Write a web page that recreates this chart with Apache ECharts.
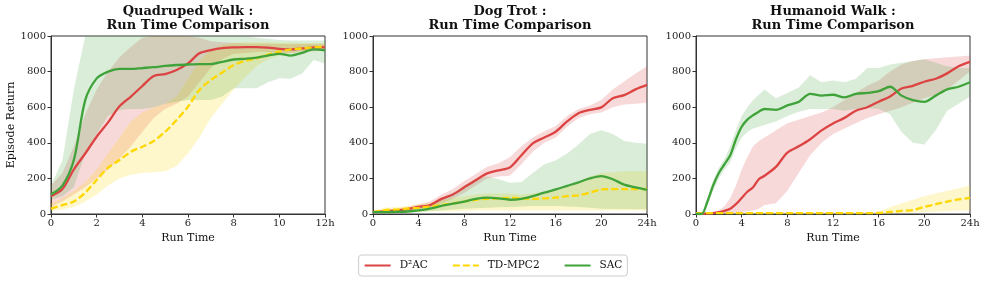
<!DOCTYPE html>
<html><head><meta charset="utf-8">
<script src="https://cdn.jsdelivr.net/npm/echarts@6/dist/echarts.min.js"></script>
<style>html,body{margin:0;padding:0;background:#fff}#c{width:986px;height:284px}</style>
</head><body><div id="c"></div>
<script>
// ---------- DATA ----------
const titles = ['Quadruped Walk :\nRun Time Comparison', 'Dog Trot :\nRun Time Comparison', 'Humanoid Walk :\nRun Time Comparison'];
const xMax = [12, 24, 24];
const xInterval = [2, 4, 4];
const yTicks = [0, 200, 400, 600, 800, 1000];
const seriesNames = ['D²AC', 'TD-MPC2', 'SAC'];

// Panel 1: Quadruped Walk
const t1 = [0,0.5,1,1.5,2,2.5,3,3.5,4,4.5,5,5.5,6,6.5,7,7.5,8,8.5,9,9.5,10,10.5,11,11.5,12];
const p1RedMean = [100,140,250,340,434,515,605,660,719,775,786,809,846,903,921,932,936,938,938,935,928,925,930,936,938];
const p1RedLo   = [40,70,110,150,200,250,310,380,460,540,590,620,660,740,820,870,900,905,910,910,905,905,910,915,920];
const p1RedHi   = [160,230,380,560,700,800,880,940,990,1000,1000,1000,1000,990,970,965,960,958,957,956,955,955,955,955,955];
const p1YelMean = [30,50,70,120,191,260,303,350,378,410,462,528,603,697,753,795,837,860,874,895,912,925,930,936,940];
const p1YelLo   = [15,25,40,70,110,160,200,220,230,235,240,270,340,430,540,620,700,770,830,870,890,905,915,920,925];
const p1YelHi   = [60,90,130,180,250,340,430,520,570,600,620,660,760,860,920,950,960,965,965,965,962,962,960,960,960];
const p1GrnMean = [110,160,303,640,762,800,815,815,820,825,832,837,840,842,842,855,868,872,878,890,900,890,905,925,920];
const p1GrnLo   = [80,100,150,340,450,550,584,590,590,600,620,631,640,640,640,660,706,706,706,740,762,760,790,865,846];
const p1GrnHi   = [160,300,700,1050,1050,1050,1050,1050,1050,1050,1050,1050,1050,1050,1050,1050,1050,1000,990,985,977,975,975,975,975];

// Panel 2: Dog Trot
const t2 = [0,1,2,3,4,5,6,7,8,9,10,11,12,13,14,15,16,17,18,19,20,21,22,23,24];
const p2RedMean = [10,15,20,28,40,50,85,110,150,190,228,245,262,330,397,430,462,520,566,585,599,650,668,700,725];
const p2RedLo   = [5,8,12,18,28,35,60,85,120,160,200,210,215,280,350,400,430,490,540,560,570,600,615,620,625];
const p2RedHi   = [15,22,30,40,55,70,110,140,185,225,265,285,320,380,430,465,495,550,590,610,640,700,745,790,830];
const p2YelMean = [10,22,25,30,35,42,50,60,70,80,85,88,90,88,85,88,92,100,105,120,138,140,140,140,140];
const p2YelLo   = [5,10,10,12,12,14,15,15,18,20,20,20,20,20,20,20,20,20,20,20,20,20,20,20,20];
const p2YelHi   = [20,35,40,45,55,65,75,90,100,110,115,115,115,110,115,125,140,160,180,210,230,235,240,240,240];
const p2GrnMean = [10,10,12,14,20,30,45,58,70,85,92,88,80,85,100,120,138,158,178,200,213,195,165,150,135];
const p2GrnLo   = [5,5,6,8,10,15,20,25,30,33,35,38,40,42,45,45,45,42,40,35,30,28,28,27,27];
const p2GrnHi   = [15,17,20,25,35,55,90,120,160,200,210,195,175,180,230,280,300,340,390,450,470,450,410,400,395];

// Panel 3: Humanoid Walk
const t3 = [0,0.5,1,1.5,2,2.5,3,3.5,4,4.5,5,5.5,6,7,8,9,10,11,12,13,14,15,16,17,18,19,20,21,22,23,24];
const p3RedMean = [0,0,3,5,10,18,30,55,90,125,150,195,215,265,345,380,420,470,509,540,580,600,631,660,705,720,743,760,790,830,855];
const p3RedLo   = [0,0,0,0,2,3,5,7,10,15,20,30,50,60,130,230,330,400,450,480,510,540,560,580,600,625,650,670,700,750,800];
const p3RedHi   = [0,0,5,10,20,45,90,160,250,320,380,410,430,470,510,530,550,570,600,640,680,720,750,800,840,860,870,875,880,885,890];
const p3YelMean = [5,5,5,5,5,5,5,5,5,5,5,5,5,5,5,5,5,5,5,5,5,5,6,12,18,22,40,55,70,82,90];
const p3YelLo   = [0,0,0,0,0,0,0,0,0,0,0,0,0,0,0,0,0,0,0,0,0,0,0,2,5,7,10,12,15,18,20];
const p3YelHi   = [8,8,8,8,8,8,8,8,8,8,8,8,8,8,8,8,8,8,8,8,8,8,12,40,60,80,100,115,130,145,160];
const p3GrnMean = [0,0,70,160,230,280,330,420,490,530,555,575,590,585,610,630,675,665,670,655,675,680,690,715,665,640,630,665,700,715,740];
const p3GrnLo   = [0,0,50,130,200,250,290,370,430,460,480,490,500,520,550,575,590,590,590,580,590,595,590,560,460,400,390,470,580,620,660];
const p3GrnHi   = [0,5,90,190,260,310,380,470,550,600,640,670,700,650,680,710,780,740,750,740,760,820,820,840,850,860,870,850,830,820,820];

// ---------- STYLE ----------
const colors = ['#dc4343', '#ffd700', '#3fa33a'];
const FONT = 'DejaVu Serif';
const lefts = [51, 373, 696];
const W = 274, TOP = 36, H = 178;

const panels = [
  {t: t1, d: [[p1RedMean,p1RedLo,p1RedHi],[p1YelMean,p1YelLo,p1YelHi],[p1GrnMean,p1GrnLo,p1GrnHi]]},
  {t: t2, d: [[p2RedMean,p2RedLo,p2RedHi],[p2YelMean,p2YelLo,p2YelHi],[p2GrnMean,p2GrnLo,p2GrnHi]]},
  {t: t3, d: [[p3RedMean,p3RedLo,p3RedHi],[p3YelMean,p3YelLo,p3YelHi],[p3GrnMean,p3GrnLo,p3GrnHi]]}
];
const YMAX = yTicks[yTicks.length - 1];

function bandSeries(gi, t, lo, hi, color) {
  return {
    type: 'custom', xAxisIndex: gi, yAxisIndex: gi, silent: true, z: 1,
    data: t.map((x, i) => [x, lo[i], hi[i]]),
    encode: {x: 0, y: [1, 2]},
    renderItem: (params, api) => {
      if (params.dataIndex !== 0) return null;
      const top = t.map((x, i) => api.coord([x, Math.min(hi[i], YMAX)]));
      const bot = t.map((x, i) => api.coord([x, Math.min(lo[i], YMAX)])).reverse();
      return {type: 'polygon', shape: {points: top.concat(bot)},
        style: {fill: color, opacity: 0.2, stroke: null}};
    }
  };
}

const grid = [], xAxis = [], yAxis = [], series = [], graphic = [];
panels.forEach((p, gi) => {
  grid.push({left: lefts[gi], top: TOP, width: W, height: H, show: true, borderColor: '#333', borderWidth: 1, containLabel: false});
  graphic.push({type: 'text', x: lefts[gi] + W / 2, y: 5, z: 10,
    style: {text: titles[gi], textAlign: 'center', textVerticalAlign: 'top',
      font: 'bold 13px "DejaVu Serif"', lineHeight: 14, fill: '#111'}});
  xAxis.push({type: 'value', gridIndex: gi, min: 0, max: xMax[gi], interval: xInterval[gi],
    name: 'Run Time', nameLocation: 'middle', nameGap: 17,
    nameTextStyle: {fontFamily: FONT, fontSize: 11, color: '#111'},
    axisLine: {show: true, lineStyle: {color: '#333', width: 1}},
    axisTick: {show: true, length: 3.5, lineStyle: {color: '#333'}},
    axisLabel: {fontFamily: FONT, fontSize: 10, color: '#222', margin: 4,
      formatter: v => v === xMax[gi] ? v + 'h' : String(v)},
    splitLine: {show: false}});
  yAxis.push({type: 'value', gridIndex: gi, min: yTicks[0], max: YMAX, interval: 200,
    name: gi === 0 ? 'Episode Return' : '', nameLocation: 'middle', nameGap: 31,
    nameTextStyle: {fontFamily: FONT, fontSize: 11, color: '#111'},
    axisLine: {show: true, lineStyle: {color: '#333', width: 1}},
    axisTick: {show: true, length: 3.5, lineStyle: {color: '#333'}},
    axisLabel: {fontFamily: FONT, fontSize: 10, color: '#222', margin: 5, formatter: v => String(v)},
    splitLine: {show: false}});
  p.d.forEach((s, si) => series.push(bandSeries(gi, p.t, s[1], s[2], colors[si])));
  p.d.forEach((s, si) => {
    series.push({type: 'line', name: seriesNames[si], xAxisIndex: gi, yAxisIndex: gi, symbol: 'none',
      z: 3 + si, smooth: 0.3,
      lineStyle: {color: colors[si], width: 2.3, type: si === 1 ? [7, 3] : 'solid'},
      itemStyle: {color: colors[si]},
      data: p.t.map((t, i) => [t, s[0][i]])});
  });
});

const chart = echarts.init(document.getElementById('c'), null, {renderer: 'canvas'});
chart.setOption({
  animation: false,
  backgroundColor: '#fff',
  grid, xAxis, yAxis, series, graphic,
  legend: {data: seriesNames, left: 'center', top: 255, orient: 'horizontal',
    borderColor: '#ccc', borderWidth: 1, borderRadius: 3, padding: [5, 5],
    itemWidth: 26, itemHeight: 10, itemGap: 24,
    itemStyle: {opacity: 0},
    textStyle: {fontFamily: FONT, fontSize: 10.5, color: '#111', padding: [0, 0, 0, 4]}}
});
</script></body></html>
